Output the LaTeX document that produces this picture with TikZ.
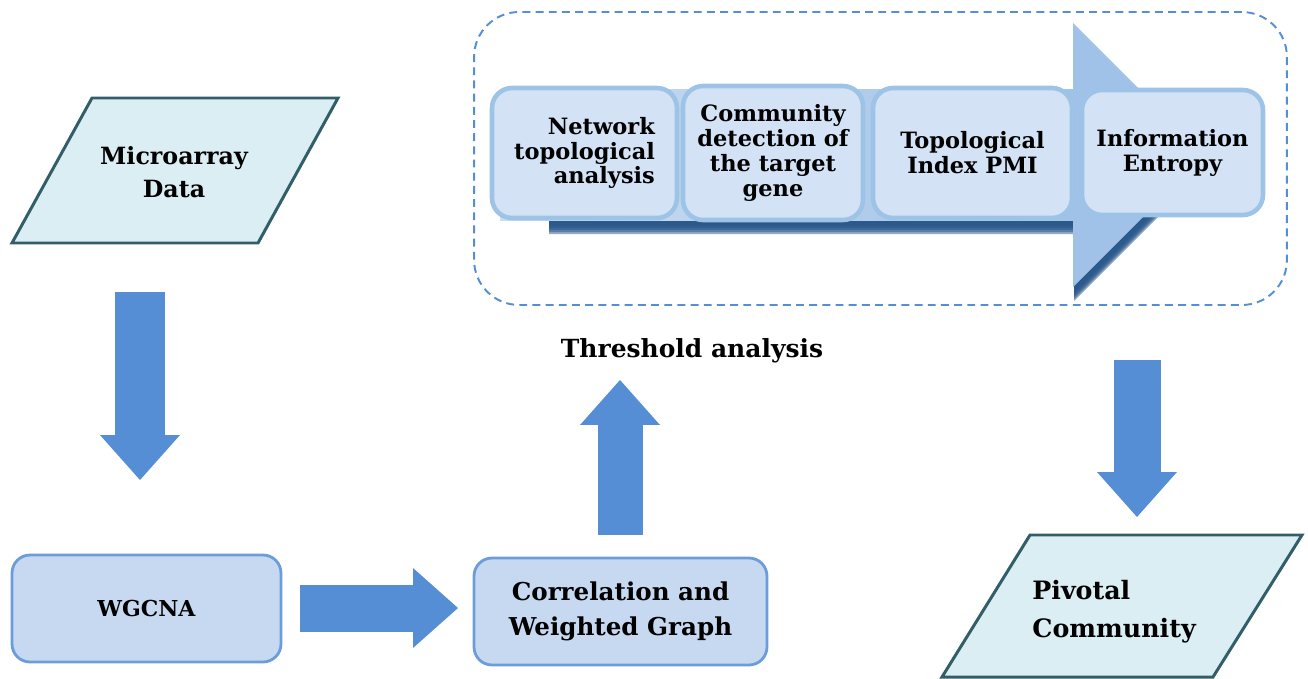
\documentclass[tikz,border=0pt]{standalone}
\usepackage{fontspec}
\setmainfont{DejaVu Serif}
\usepackage{tikz}
\usetikzlibrary{shapes,arrows.meta,positioning}
\definecolor{arrowblue}{RGB}{85,142,213}
\definecolor{boxfill}{RGB}{198,217,241}
\definecolor{boxline}{RGB}{108,156,217}
\definecolor{datafill}{RGB}{219,238,243}
\definecolor{dataline}{RGB}{49,94,104}
\definecolor{stepfill}{RGB}{211,226,244}
\definecolor{stepline}{RGB}{157,195,230}
\definecolor{bodyleft}{RGB}{205,221,240}
\definecolor{bodyright}{RGB}{160,194,232}
\definecolor{shadowblue}{RGB}{38,84,136}
\tikzstyle{datashape} = [draw=dataline, fill=datafill, line width=1.7pt, line join=miter]
\tikzstyle{datatext} = [align=center, inner sep=0pt, font=\fontsize{13.5}{19}\selectfont\bfseries]
\tikzstyle{block} = [draw=boxline, fill=boxfill, line width=1.6pt, rectangle, rounded corners=0.36cm, minimum width=5.38cm, minimum height=2.14cm, align=center, font=\fontsize{14}{19.5}\selectfont\bfseries]
\tikzstyle{stepbox} = [draw=stepline, fill=stepfill, line width=2.6pt, rectangle, rounded corners=0.4cm, minimum height=2.6cm, align=center, font=\fontsize{12.8}{14.2}\selectfont\bfseries]
\tikzstyle{fatarrow} = [draw=arrowblue, line width=0.94cm, -{Triangle[length=0.9cm,width=1.6cm,line width=0pt]}]
\begin{document}
\begin{tikzpicture}[x=0.02cm, y=-0.02cm]
  \useasboundingbox (0,0) rectangle (1308,679);
  \node [draw=arrowblue, line width=1.1pt, dash pattern=on 4.5pt off 3pt, rounded corners=0.9cm, minimum width=16.26cm, minimum height=5.86cm] (frame) at (880.5,158.5) {};

  \foreach \s in {6,8,10,12,14}
    \fill [shadowblue, opacity=0.5, shift={(1,\s)}] (548,90) -- (1073,90) -- (1073,23) -- (1205,155) -- (1073,287) -- (1073,220) -- (548,220) -- cycle;
  \fill [bodyright] (1073,23) -- (1205,155) -- (1073,287) -- cycle;
  \fill [left color=bodyleft, right color=bodyright] (500,90) rectangle (1074,220);

  \node [stepbox, minimum width=3.7cm, align=right] (net) at (584.5,153) {Network\\topological\\analysis};
  \node [stepbox, minimum width=3.6cm, minimum height=2.68cm] (comm) at (773,153) {Community\\detection of\\the target\\gene};
  \node [stepbox, minimum width=3.98cm] (topo) at (972.5,153) {Topological\\Index PMI};
  \node [stepbox, minimum width=3.62cm, minimum height=2.5cm] (info) at (1172.5,152.5) {Information\\Entropy};

  \filldraw [datashape] (12,243) -- (92,98) -- (338,98) -- (258,243) -- cycle;
  \node [datatext] (micro) at (174,172) {Microarray\\Data};
  \node [block, font=\fontsize{12.5}{19}\selectfont\bfseries] (wgcna) at (146.5,608.5) {WGCNA};
  \node [block, minimum width=5.86cm] (corr) at (620.5,611.5) {Correlation and\\Weighted Graph};
  \node [font=\fontsize{14.2}{17}\selectfont\bfseries] (thresh) at (692,351) {Threshold analysis};
  \filldraw [datashape] (942,677) -- (1030,535) -- (1302,535) -- (1213,677) -- cycle;
  \node [datatext, align=left, anchor=north west, font=\fontsize{14.4}{21.5}\selectfont\bfseries] (pivot) at (1032,580) {Pivotal\\Community};

  \coordinate (a1s) at (140,292);
  \coordinate (a1e) at (140,480);
  \coordinate (a2s) at (300,608);
  \coordinate (a2e) at (458,608);
  \coordinate (a3s) at (620,535);
  \coordinate (a3e) at (620,380);
  \coordinate (a4s) at (1137,360);
  \coordinate (a4e) at (1137,517);

  \draw [fatarrow, line width=1cm] (a1s) -- (a1e);
  \draw [fatarrow] (a2s) -- (a2e);
  \draw [fatarrow, line width=0.9cm] (a3s) -- (a3e);
  \draw [fatarrow] (a4s) -- (a4e);
\end{tikzpicture}
\end{document}
